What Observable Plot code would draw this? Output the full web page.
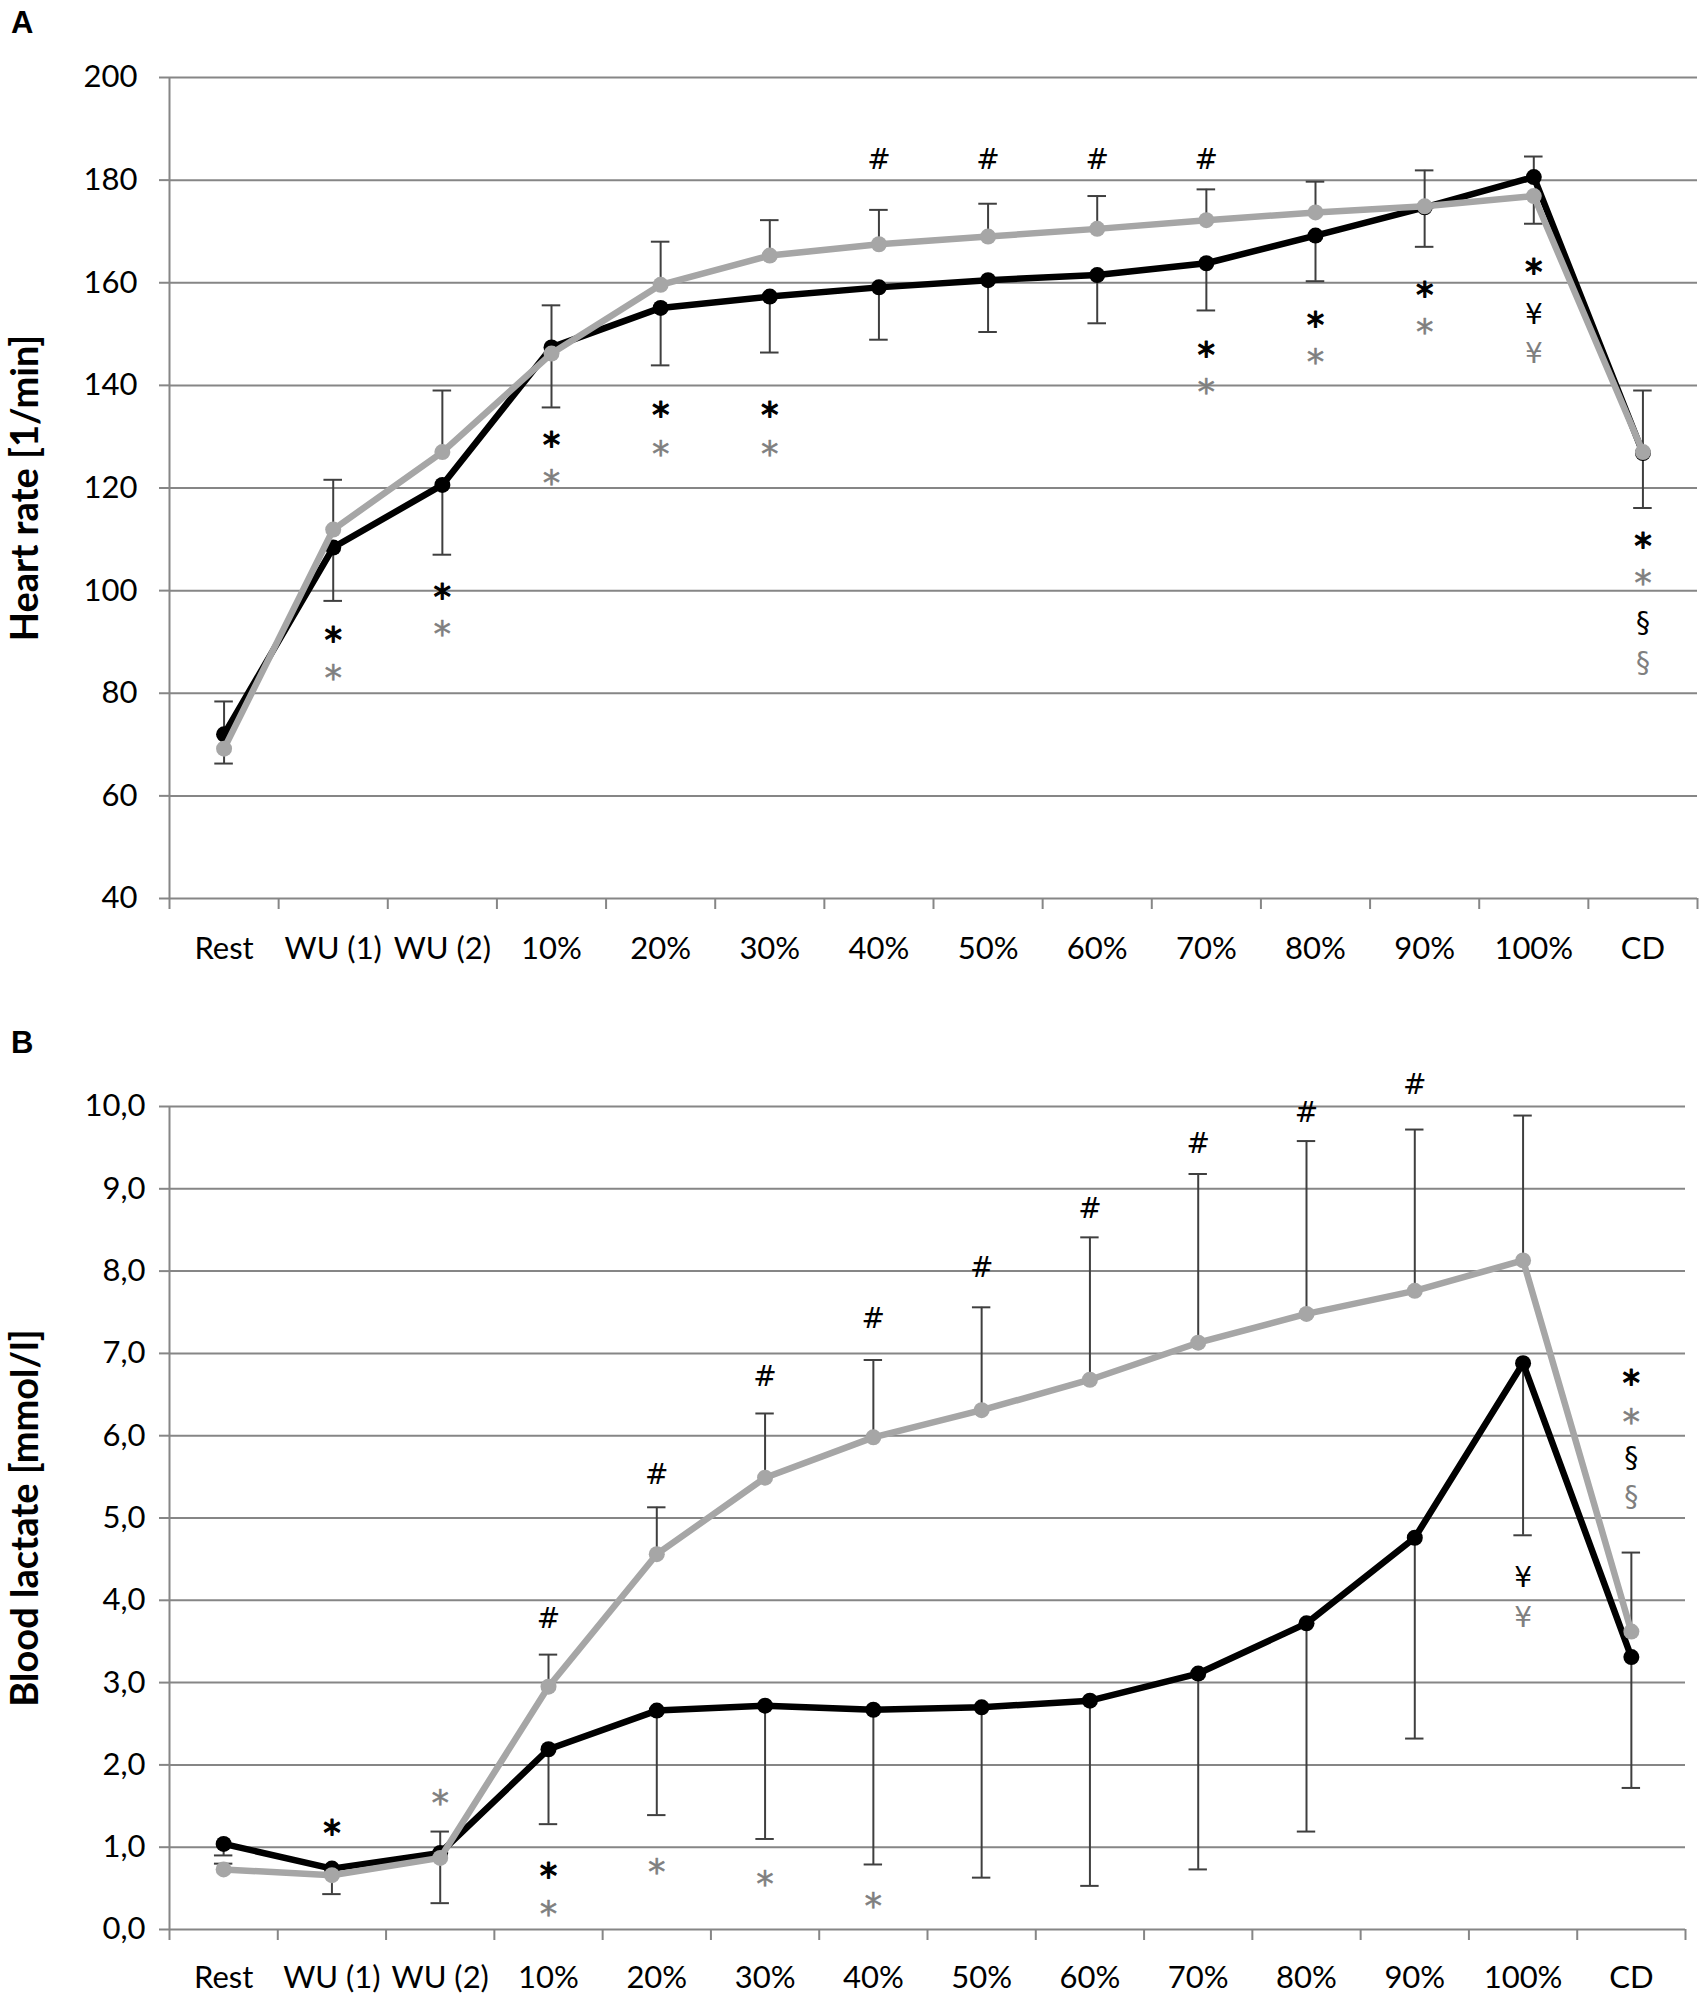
<!DOCTYPE html>
<html>
<head>
<meta charset="utf-8">
<script src="https://cdn.jsdelivr.net/npm/d3@7"></script>
<script src="https://cdn.jsdelivr.net/npm/@observablehq/plot@0.6"></script>
<style>
  html, body { margin: 0; padding: 0; background: #fff; }
  #wrap { position: relative; width: 1700px; height: 1994px; font-family: Lato, "Open Sans", sans-serif; }
  .panel { position: absolute; left: 0; z-index: 1; }
  .plabel { position: absolute; z-index: 2; font-family: "Liberation Sans", Arial, sans-serif; font-weight: bold; font-size: 31px; color: #000; line-height: 1; }
</style>
</head>
<body>
<div id="wrap">
  <div class="plabel" style="left:11px; top:7px;">A</div>
  <div class="plabel" style="left:11px; top:1027px;">B</div>
  <div id="pa" class="panel" style="top:0px;"></div>
  <div id="pb" class="panel" style="top:1000px;"></div>
</div>
<script>
// ---------- data ----------
const categories = ["Rest", "WU (1)", "WU (2)", "10%", "20%", "30%", "40%", "50%", "60%", "70%", "80%", "90%", "100%", "CD"];

// Panel A: heart rate [1/min]
const hrBlack    = [72.0, 108.4, 120.6, 147.4, 155.1, 157.3, 159.1, 160.5, 161.5, 163.8, 169.2, 174.7, 180.6, 126.8];
const hrGray     = [69.2, 111.9, 127.0, 146.2, 159.6, 165.3, 167.5, 169.0, 170.5, 172.2, 173.7, 174.9, 176.9, 127.0];
const hrBlackErr = [78.4,  98.0, 107.0, 135.7, 143.9, 146.4, 148.9, 150.4, 152.1, 154.6, 160.3, 167.0, 184.6, 116.1];
const hrGrayErr  = [66.3, 121.6, 139.0, 155.6, 168.0, 172.2, 174.2, 175.4, 176.9, 178.2, 179.7, 181.9, 171.5, 139.0];
const hrTicks = [40, 60, 80, 100, 120, 140, 160, 180, 200];

// Panel A annotations: [category index, value position, symbol, colour group]
const hrMarks = [
  [6, 183.9, "#", "k"], [7, 183.9, "#", "k"], [8, 183.9, "#", "k"], [9, 183.9, "#", "k"],
  [1, 91.6, "*", "k"], [1, 84.1, "*", "g"],
  [2, 100.0, "*", "k"], [2, 92.8, "*", "g"],
  [3, 129.5, "*", "k"], [3, 122.1, "*", "g"],
  [4, 135.5, "*", "k"], [4, 127.8, "*", "g"],
  [5, 135.5, "*", "k"], [5, 127.8, "*", "g"],
  [9, 147.1, "*", "k"], [9, 140.0, "*", "g"],
  [10, 152.9, "*", "k"], [10, 145.7, "*", "g"],
  [11, 158.8, "*", "k"], [11, 151.6, "*", "g"],
  [12, 163.3, "*", "k"], [12, 153.8, "¥", "k"], [12, 146.2, "¥", "g"],
  [13, 109.9, "*", "k"], [13, 102.7, "*", "g"], [13, 93.6, "§", "k"], [13, 85.9, "§", "g"]
];

// Panel B: blood lactate [mmol/l]
const laBlack    = [1.04, 0.74, 0.93, 2.19, 2.66, 2.72, 2.67, 2.70, 2.78, 3.11, 3.72, 4.76, 6.88, 3.31];
const laGray     = [0.73, 0.66, 0.87, 2.95, 4.56, 5.49, 5.98, 6.31, 6.68, 7.13, 7.48, 7.76, 8.13, 3.62];
const laBlackErr = [0.90, 0.43, 0.32, 1.28, 1.39, 1.10, 0.79, 0.63, 0.53, 0.73, 1.19, 2.32, 4.79, 1.72];
const laGrayErr  = [0.80, 0.76, 1.19, 3.34, 5.13, 6.27, 6.92, 7.56, 8.41, 9.18, 9.58, 9.72, 9.89, 4.58];
const laTicks = [0, 1, 2, 3, 4, 5, 6, 7, 8, 9, 10];

const laMarks = [
  [3, 3.77, "#", "k"], [4, 5.52, "#", "k"], [5, 6.71, "#", "k"], [6, 7.42, "#", "k"],
  [7, 8.04, "#", "k"], [8, 8.76, "#", "k"], [9, 9.55, "#", "k"], [10, 9.92, "#", "k"], [11, 10.26, "#", "k"],
  [1, 1.25, "*", "k"], [2, 1.61, "*", "g"],
  [3, 0.73, "*", "k"], [3, 0.26, "*", "g"],
  [4, 0.77, "*", "g"], [5, 0.63, "*", "g"], [6, 0.36, "*", "g"],
  [12, 4.27, "¥", "k"], [12, 3.79, "¥", "g"],
  [13, 6.71, "*", "k"], [13, 6.24, "*", "g"], [13, 5.73, "§", "k"], [13, 5.25, "§", "g"]
];

// ---------- styles ----------
const BLACK = "#000000";
const GRAY = "#a6a6a6";
const SYMGRAY = "#7f7f7f";
const GRID = "#868686";
const ERR = "#3f3f3f";
const FONT = "Lato, 'Open Sans', sans-serif";

function rows(vals, errs, series) {
  return categories.map((c, i) => ({i, xc: i + 0.5, cat: c, v: vals[i], e: errs[i], s: series}));
}

function panel({vals, ticks, domain, title, marks, fmt, height, mTop, mBottom, mRight, width, yPad, xPad}) {
  const black = rows(vals.black, vals.blackErr, "black");
  const gray = rows(vals.gray, vals.grayErr, "gray");
  const ann = marks.map(([i, y, t, g]) => ({xc: i + 0.5, y, t, g}));
  const stars = ann.filter(d => d.t === "*");
  const others = ann.filter(d => d.t !== "*");
  const capHalf = 0.085;
  return Plot.plot({
    width, height,
    marginTop: mTop, marginBottom: mBottom, marginLeft: 169, marginRight: mRight,
    style: {fontFamily: FONT, background: "transparent", overflow: "visible"},
    x: {domain: [0, categories.length], axis: null},
    y: {domain, axis: null},
    marks: [
      Plot.gridY(ticks, {stroke: GRID, strokeOpacity: 1, strokeWidth: 2}),
      Plot.ruleX([0], {y1: domain[0], y2: domain[1], stroke: GRID, strokeWidth: 2}),
      Plot.axisY({ticks, tickSize: 10, tickPadding: yPad, tickFormat: fmt, fontSize: 31, stroke: GRID, strokeWidth: 2, color: "#000", label: null}),
      Plot.axisX({ticks: d3.range(0, categories.length + 1), tickSize: 11, tickFormat: () => "", stroke: GRID, strokeWidth: 2, label: null}),
      Plot.axisX({ticks: d3.range(categories.length).map(i => i + 0.5), tickSize: 0, tickPadding: xPad,
                  tickFormat: d => categories[Math.floor(d)], fontSize: 31, color: "#000", label: null}),
      Plot.text([title], {frameAnchor: "left", rotate: -90, dx: -144, textAnchor: "middle", fontSize: 38, fontWeight: "bold", fill: "#000"}),
      // error bars
      ...[black, gray].flatMap(d => [
        Plot.ruleX(d.filter(r => r.e != null), {x: "xc", y1: "v", y2: "e", stroke: ERR, strokeWidth: 2}),
        Plot.ruleY(d.filter(r => r.e != null), {y: "e", x1: r => r.xc - capHalf, x2: r => r.xc + capHalf, stroke: ERR, strokeWidth: 2})
      ]),
      Plot.line(black, {x: "xc", y: "v", stroke: BLACK, strokeWidth: 6.5}),
      Plot.dot(black, {x: "xc", y: "v", r: 8, fill: BLACK}),
      Plot.line(gray, {x: "xc", y: "v", stroke: GRAY, strokeWidth: 6.5}),
      Plot.dot(gray, {x: "xc", y: "v", r: 8, fill: GRAY}),
      Plot.text(stars, {x: "xc", y: "y", text: "t", fill: d => d.g === "k" ? "#000" : SYMGRAY,
        stroke: d => d.g === "k" ? "#000" : SYMGRAY, strokeWidth: d => d.g === "k" ? 1.2 : 0.5,
        fontSize: 35, dy: 7, lineAnchor: "middle", textAnchor: "middle", fontFamily: "'DejaVu Sans', sans-serif"}),
      Plot.text(others, {x: "xc", y: "y", text: "t", fill: d => d.g === "k" ? "#000" : SYMGRAY,
        fontSize: 28, lineAnchor: "middle", textAnchor: "middle", fontFamily: "'DejaVu Sans', sans-serif"})
    ]
  });
}

const fmtComma = d => d3.format(".1f")(d).replace(".", ",");

document.getElementById("pa").appendChild(panel({
  vals: {black: hrBlack, gray: hrGray, blackErr: hrBlackErr, grayErr: hrGrayErr},
  ticks: hrTicks, domain: [40, 200], title: "Heart rate [1/min]", marks: hrMarks,
  fmt: d => String(d), width: 1700, height: 1000, mTop: 77, mBottom: 102, mRight: 3, yPad: 22, xPad: 38
}));

document.getElementById("pb").appendChild(panel({
  vals: {black: laBlack, gray: laGray, blackErr: laBlackErr, grayErr: laGrayErr},
  ticks: laTicks, domain: [0, 10], title: "Blood lactate [mmol/l]", marks: laMarks,
  fmt: fmtComma, width: 1700, height: 994, mTop: 106, mBottom: 65, mRight: 15, yPad: 14, xPad: 36
}));
</script>
</body>
</html>
